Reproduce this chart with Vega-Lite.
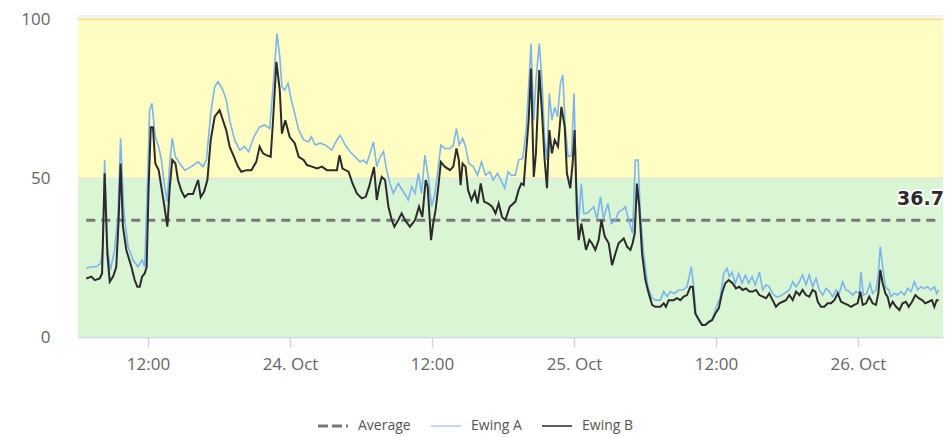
{
  "$schema": "https://vega.github.io/schema/vega-lite/v6.json",
  "width": 865,
  "height": 321,
  "autosize": {"type": "none"},
  "padding": {"left": 78, "top": 16, "right": 3, "bottom": 100},
  "background": "white",
  "config": {"view": {"stroke": null}, "font": "Open Sans"},
  "datasets": {
    "avg": [
      {"t": "2023-10-23T06:47", "v": 36.7},
      {"t": "2023-10-26T06:49", "v": 36.7}
    ],
    "A": [
      {"t": "2023-10-23T06:47", "v": 21.6}, {"t": "2023-10-23T07:13", "v": 22.1}, {"t": "2023-10-23T07:38", "v": 22.1}, {"t": "2023-10-23T08:00", "v": 23.2},
      {"t": "2023-10-23T08:12", "v": 28.4}, {"t": "2023-10-23T08:20", "v": 55.7}, {"t": "2023-10-23T08:34", "v": 28.4}, {"t": "2023-10-23T08:49", "v": 21},
      {"t": "2023-10-23T09:11", "v": 27.4}, {"t": "2023-10-23T09:28", "v": 38.9}, {"t": "2023-10-23T09:41", "v": 62.5}, {"t": "2023-10-23T09:58", "v": 38.9},
      {"t": "2023-10-23T10:19", "v": 28.4}, {"t": "2023-10-23T10:44", "v": 24.2}, {"t": "2023-10-23T11:09", "v": 22.1}, {"t": "2023-10-23T11:30", "v": 24.2},
      {"t": "2023-10-23T11:43", "v": 22.1}, {"t": "2023-10-23T11:57", "v": 47.3}, {"t": "2023-10-23T12:08", "v": 71.4}, {"t": "2023-10-23T12:20", "v": 73.5},
      {"t": "2023-10-23T12:37", "v": 63}, {"t": "2023-10-23T12:54", "v": 59.9}, {"t": "2023-10-23T13:08", "v": 55.7}, {"t": "2023-10-23T13:24", "v": 47.3},
      {"t": "2023-10-23T13:38", "v": 42.6}, {"t": "2023-10-23T13:50", "v": 54.6}, {"t": "2023-10-23T14:03", "v": 62.5}, {"t": "2023-10-23T14:19", "v": 56.7},
      {"t": "2023-10-23T14:41", "v": 54.6}, {"t": "2023-10-23T15:06", "v": 52.5}, {"t": "2023-10-23T15:40", "v": 53.6}, {"t": "2023-10-23T16:14", "v": 55.1},
      {"t": "2023-10-23T16:39", "v": 53.6}, {"t": "2023-10-23T16:56", "v": 55.7}, {"t": "2023-10-23T17:18", "v": 70.3}, {"t": "2023-10-23T17:38", "v": 78.7},
      {"t": "2023-10-23T17:55", "v": 80.3}, {"t": "2023-10-23T18:20", "v": 77.7}, {"t": "2023-10-23T18:37", "v": 74.5}, {"t": "2023-10-23T18:54", "v": 68.2},
      {"t": "2023-10-23T19:19", "v": 62}, {"t": "2023-10-23T19:45", "v": 58.8}, {"t": "2023-10-23T20:10", "v": 59.9}, {"t": "2023-10-23T20:30", "v": 58.3},
      {"t": "2023-10-23T20:57", "v": 63}, {"t": "2023-10-23T21:26", "v": 66.1}, {"t": "2023-10-23T21:52", "v": 66.7}, {"t": "2023-10-23T22:17", "v": 65.6},
      {"t": "2023-10-23T22:34", "v": 78.7}, {"t": "2023-10-23T22:54", "v": 95.5}, {"t": "2023-10-23T23:08", "v": 88.2}, {"t": "2023-10-23T23:19", "v": 78.7},
      {"t": "2023-10-23T23:33", "v": 77.7}, {"t": "2023-10-23T23:50", "v": 79.8}, {"t": "2023-10-24T00:07", "v": 74.5}, {"t": "2023-10-24T00:24", "v": 70.3},
      {"t": "2023-10-24T00:44", "v": 65.1}, {"t": "2023-10-24T01:09", "v": 62}, {"t": "2023-10-24T01:34", "v": 61.4}, {"t": "2023-10-24T01:48", "v": 63},
      {"t": "2023-10-24T02:08", "v": 60.4}, {"t": "2023-10-24T02:33", "v": 61}, {"t": "2023-10-24T02:59", "v": 60.4}, {"t": "2023-10-24T03:32", "v": 58.8},
      {"t": "2023-10-24T03:58", "v": 62}, {"t": "2023-10-24T04:15", "v": 63.5}, {"t": "2023-10-24T04:40", "v": 60.4}, {"t": "2023-10-24T05:05", "v": 58.3},
      {"t": "2023-10-24T05:30", "v": 56.7}, {"t": "2023-10-24T05:56", "v": 55.1}, {"t": "2023-10-24T06:12", "v": 55.7}, {"t": "2023-10-24T06:29", "v": 54.6},
      {"t": "2023-10-24T06:46", "v": 57.8}, {"t": "2023-10-24T07:03", "v": 61.4}, {"t": "2023-10-24T07:20", "v": 53.6}, {"t": "2023-10-24T07:37", "v": 56.7},
      {"t": "2023-10-24T07:54", "v": 58.3}, {"t": "2023-10-24T08:10", "v": 52.5}, {"t": "2023-10-24T08:27", "v": 48.3}, {"t": "2023-10-24T08:44", "v": 45.2},
      {"t": "2023-10-24T09:09", "v": 48.3}, {"t": "2023-10-24T09:35", "v": 45.7}, {"t": "2023-10-24T10:00", "v": 43.1}, {"t": "2023-10-24T10:17", "v": 47.3},
      {"t": "2023-10-24T10:34", "v": 45.2}, {"t": "2023-10-24T10:51", "v": 51.5}, {"t": "2023-10-24T11:07", "v": 45.2}, {"t": "2023-10-24T11:24", "v": 57.2},
      {"t": "2023-10-24T11:41", "v": 50.4}, {"t": "2023-10-24T11:58", "v": 41}, {"t": "2023-10-24T12:15", "v": 45.2}, {"t": "2023-10-24T12:32", "v": 53.6},
      {"t": "2023-10-24T12:45", "v": 60.4}, {"t": "2023-10-24T13:05", "v": 59.3}, {"t": "2023-10-24T13:31", "v": 59.3}, {"t": "2023-10-24T13:48", "v": 60.4},
      {"t": "2023-10-24T14:04", "v": 65.6}, {"t": "2023-10-24T14:18", "v": 60.4}, {"t": "2023-10-24T14:35", "v": 62.5}, {"t": "2023-10-24T14:50", "v": 59.9},
      {"t": "2023-10-24T15:07", "v": 54.6}, {"t": "2023-10-24T15:29", "v": 53.6}, {"t": "2023-10-24T15:51", "v": 50.9}, {"t": "2023-10-24T16:11", "v": 55.1},
      {"t": "2023-10-24T16:31", "v": 50.9}, {"t": "2023-10-24T16:53", "v": 52}, {"t": "2023-10-24T17:10", "v": 49.4}, {"t": "2023-10-24T17:32", "v": 51.5},
      {"t": "2023-10-24T17:49", "v": 49.4}, {"t": "2023-10-24T18:09", "v": 46.8}, {"t": "2023-10-24T18:26", "v": 52}, {"t": "2023-10-24T18:42", "v": 50.9},
      {"t": "2023-10-24T19:03", "v": 50.9}, {"t": "2023-10-24T19:19", "v": 55.7}, {"t": "2023-10-24T19:40", "v": 56.2}, {"t": "2023-10-24T19:57", "v": 65.1},
      {"t": "2023-10-24T20:10", "v": 78.7}, {"t": "2023-10-24T20:22", "v": 92.3}, {"t": "2023-10-24T20:36", "v": 68.2}, {"t": "2023-10-24T20:47", "v": 80.8},
      {"t": "2023-10-24T21:04", "v": 92.3}, {"t": "2023-10-24T21:18", "v": 80.8}, {"t": "2023-10-24T21:31", "v": 62}, {"t": "2023-10-24T21:43", "v": 55.7},
      {"t": "2023-10-24T21:55", "v": 76.6}, {"t": "2023-10-24T22:08", "v": 68.2}, {"t": "2023-10-24T22:22", "v": 72.4}, {"t": "2023-10-24T22:36", "v": 69.3},
      {"t": "2023-10-24T22:51", "v": 79.8}, {"t": "2023-10-24T23:03", "v": 82.4}, {"t": "2023-10-24T23:16", "v": 66.1}, {"t": "2023-10-24T23:30", "v": 56.7},
      {"t": "2023-10-24T23:47", "v": 57.2}, {"t": "2023-10-25T00:00", "v": 76.6}, {"t": "2023-10-25T00:12", "v": 47.3}, {"t": "2023-10-25T00:24", "v": 36.8},
      {"t": "2023-10-25T00:37", "v": 48.3}, {"t": "2023-10-25T00:49", "v": 38.9}, {"t": "2023-10-25T01:06", "v": 38.9}, {"t": "2023-10-25T01:23", "v": 39.9},
      {"t": "2023-10-25T01:40", "v": 41}, {"t": "2023-10-25T01:57", "v": 37.2}, {"t": "2023-10-25T02:14", "v": 44.1}, {"t": "2023-10-25T02:30", "v": 37.2},
      {"t": "2023-10-25T02:52", "v": 42}, {"t": "2023-10-25T03:09", "v": 35.7}, {"t": "2023-10-25T03:30", "v": 36.8}, {"t": "2023-10-25T03:46", "v": 39.4},
      {"t": "2023-10-25T04:03", "v": 39.9}, {"t": "2023-10-25T04:20", "v": 41}, {"t": "2023-10-25T04:37", "v": 36.8}, {"t": "2023-10-25T04:57", "v": 32.6},
      {"t": "2023-10-25T05:11", "v": 55.7}, {"t": "2023-10-25T05:25", "v": 55.7}, {"t": "2023-10-25T05:36", "v": 38.9}, {"t": "2023-10-25T05:53", "v": 26.3},
      {"t": "2023-10-25T06:15", "v": 15.8}, {"t": "2023-10-25T06:36", "v": 12.2}, {"t": "2023-10-25T06:56", "v": 11.6}, {"t": "2023-10-25T07:18", "v": 11.6},
      {"t": "2023-10-25T07:35", "v": 14.3}, {"t": "2023-10-25T07:52", "v": 12.7}, {"t": "2023-10-25T08:08", "v": 14.3}, {"t": "2023-10-25T08:30", "v": 13.7},
      {"t": "2023-10-25T08:51", "v": 14.8}, {"t": "2023-10-25T09:11", "v": 14.8}, {"t": "2023-10-25T09:33", "v": 15.8}, {"t": "2023-10-25T09:55", "v": 22.1},
      {"t": "2023-10-25T10:07", "v": 15.8}, {"t": "2023-10-25T10:19", "v": 6.9}, {"t": "2023-10-25T10:36", "v": 4.8}, {"t": "2023-10-25T10:57", "v": 3.8},
      {"t": "2023-10-25T11:23", "v": 4.3}, {"t": "2023-10-25T11:43", "v": 5.9}, {"t": "2023-10-25T12:05", "v": 10.1}, {"t": "2023-10-25T12:22", "v": 12.7},
      {"t": "2023-10-25T12:39", "v": 20}, {"t": "2023-10-25T12:56", "v": 21.6}, {"t": "2023-10-25T13:08", "v": 19}, {"t": "2023-10-25T13:21", "v": 20.4},
      {"t": "2023-10-25T13:38", "v": 16.9}, {"t": "2023-10-25T13:55", "v": 20}, {"t": "2023-10-25T14:12", "v": 16.9}, {"t": "2023-10-25T14:29", "v": 19.5},
      {"t": "2023-10-25T14:46", "v": 16.9}, {"t": "2023-10-25T15:03", "v": 19}, {"t": "2023-10-25T15:19", "v": 16.4}, {"t": "2023-10-25T15:40", "v": 20.4},
      {"t": "2023-10-25T15:57", "v": 14.8}, {"t": "2023-10-25T16:14", "v": 16.4}, {"t": "2023-10-25T16:30", "v": 15.8}, {"t": "2023-10-25T16:47", "v": 13.7},
      {"t": "2023-10-25T17:04", "v": 12.7}, {"t": "2023-10-25T17:21", "v": 12.7}, {"t": "2023-10-25T17:47", "v": 13.7}, {"t": "2023-10-25T18:12", "v": 14.8},
      {"t": "2023-10-25T18:29", "v": 17.4}, {"t": "2023-10-25T18:46", "v": 15.8}, {"t": "2023-10-25T19:03", "v": 17.4}, {"t": "2023-10-25T19:19", "v": 19.5},
      {"t": "2023-10-25T19:36", "v": 16.4}, {"t": "2023-10-25T19:53", "v": 19.5}, {"t": "2023-10-25T20:10", "v": 15.8}, {"t": "2023-10-25T20:27", "v": 18.4},
      {"t": "2023-10-25T20:44", "v": 14.8}, {"t": "2023-10-25T21:01", "v": 13.2}, {"t": "2023-10-25T21:18", "v": 15.3}, {"t": "2023-10-25T21:35", "v": 14.3},
      {"t": "2023-10-25T21:52", "v": 12.7}, {"t": "2023-10-25T22:08", "v": 14.8}, {"t": "2023-10-25T22:25", "v": 13.7}, {"t": "2023-10-25T22:42", "v": 17.4},
      {"t": "2023-10-25T22:59", "v": 14.8}, {"t": "2023-10-25T23:16", "v": 14.3}, {"t": "2023-10-25T23:33", "v": 13.2}, {"t": "2023-10-25T23:50", "v": 14.3},
      {"t": "2023-10-26T00:07", "v": 13.7}, {"t": "2023-10-26T00:15", "v": 20.4}, {"t": "2023-10-26T00:27", "v": 13.2}, {"t": "2023-10-26T00:44", "v": 13.7},
      {"t": "2023-10-26T01:01", "v": 16.9}, {"t": "2023-10-26T01:14", "v": 13.7}, {"t": "2023-10-26T01:31", "v": 14.8}, {"t": "2023-10-26T01:43", "v": 20},
      {"t": "2023-10-26T01:53", "v": 28.4}, {"t": "2023-10-26T02:05", "v": 22.1}, {"t": "2023-10-26T02:19", "v": 15.8}, {"t": "2023-10-26T02:36", "v": 14.8},
      {"t": "2023-10-26T02:47", "v": 12.7}, {"t": "2023-10-26T03:04", "v": 13.7}, {"t": "2023-10-26T03:21", "v": 13.2}, {"t": "2023-10-26T03:38", "v": 14.3},
      {"t": "2023-10-26T03:55", "v": 13.2}, {"t": "2023-10-26T04:12", "v": 15.3}, {"t": "2023-10-26T04:29", "v": 14.3}, {"t": "2023-10-26T04:46", "v": 17.4},
      {"t": "2023-10-26T05:03", "v": 14.8}, {"t": "2023-10-26T05:19", "v": 15.8}, {"t": "2023-10-26T05:36", "v": 15.3}, {"t": "2023-10-26T05:53", "v": 15.8},
      {"t": "2023-10-26T06:10", "v": 14.8}, {"t": "2023-10-26T06:27", "v": 15.8}, {"t": "2023-10-26T06:39", "v": 13.7}, {"t": "2023-10-26T06:49", "v": 14.8}
    ],
    "B": [
      {"t": "2023-10-23T06:47", "v": 18.4}, {"t": "2023-10-23T07:13", "v": 19}, {"t": "2023-10-23T07:30", "v": 17.9}, {"t": "2023-10-23T07:55", "v": 18.4},
      {"t": "2023-10-23T08:07", "v": 20}, {"t": "2023-10-23T08:20", "v": 51.5}, {"t": "2023-10-23T08:34", "v": 26}, {"t": "2023-10-23T08:46", "v": 17.4},
      {"t": "2023-10-23T09:03", "v": 19}, {"t": "2023-10-23T09:19", "v": 22}, {"t": "2023-10-23T09:31", "v": 36.8}, {"t": "2023-10-23T09:41", "v": 54.6},
      {"t": "2023-10-23T09:53", "v": 34.7}, {"t": "2023-10-23T10:10", "v": 27.4}, {"t": "2023-10-23T10:36", "v": 22}, {"t": "2023-10-23T10:52", "v": 18},
      {"t": "2023-10-23T11:06", "v": 15.8}, {"t": "2023-10-23T11:18", "v": 15.8}, {"t": "2023-10-23T11:30", "v": 19}, {"t": "2023-10-23T11:43", "v": 20},
      {"t": "2023-10-23T11:53", "v": 22}, {"t": "2023-10-23T12:03", "v": 47}, {"t": "2023-10-23T12:14", "v": 66}, {"t": "2023-10-23T12:25", "v": 66},
      {"t": "2023-10-23T12:37", "v": 54.6}, {"t": "2023-10-23T12:54", "v": 52.5}, {"t": "2023-10-23T13:08", "v": 47}, {"t": "2023-10-23T13:21", "v": 42},
      {"t": "2023-10-23T13:38", "v": 34.7}, {"t": "2023-10-23T13:50", "v": 47}, {"t": "2023-10-23T14:03", "v": 55.7}, {"t": "2023-10-23T14:19", "v": 54.6},
      {"t": "2023-10-23T14:32", "v": 49.4}, {"t": "2023-10-23T14:49", "v": 46}, {"t": "2023-10-23T15:06", "v": 44}, {"t": "2023-10-23T15:23", "v": 45},
      {"t": "2023-10-23T15:48", "v": 45}, {"t": "2023-10-23T16:14", "v": 49.4}, {"t": "2023-10-23T16:27", "v": 44}, {"t": "2023-10-23T16:44", "v": 45.7},
      {"t": "2023-10-23T17:01", "v": 49.4}, {"t": "2023-10-23T17:18", "v": 62}, {"t": "2023-10-23T17:38", "v": 69.3}, {"t": "2023-10-23T18:03", "v": 71.4},
      {"t": "2023-10-23T18:20", "v": 68.2}, {"t": "2023-10-23T18:37", "v": 65}, {"t": "2023-10-23T18:54", "v": 59.9}, {"t": "2023-10-23T19:16", "v": 56.7},
      {"t": "2023-10-23T19:36", "v": 53.6}, {"t": "2023-10-23T19:53", "v": 52}, {"t": "2023-10-23T20:19", "v": 52.5}, {"t": "2023-10-23T20:44", "v": 52.5},
      {"t": "2023-10-23T21:09", "v": 55.1}, {"t": "2023-10-23T21:26", "v": 59.9}, {"t": "2023-10-23T21:43", "v": 57.8}, {"t": "2023-10-23T22:00", "v": 57.2},
      {"t": "2023-10-23T22:22", "v": 56.7}, {"t": "2023-10-23T22:34", "v": 68.2}, {"t": "2023-10-23T22:51", "v": 86.6}, {"t": "2023-10-23T23:08", "v": 77.7},
      {"t": "2023-10-23T23:19", "v": 64}, {"t": "2023-10-23T23:36", "v": 68.2}, {"t": "2023-10-23T23:58", "v": 63}, {"t": "2023-10-24T00:24", "v": 61},
      {"t": "2023-10-24T00:44", "v": 56.7}, {"t": "2023-10-24T01:09", "v": 55.7}, {"t": "2023-10-24T01:26", "v": 54.1}, {"t": "2023-10-24T01:51", "v": 53.6},
      {"t": "2023-10-24T02:17", "v": 53}, {"t": "2023-10-24T02:42", "v": 53.6}, {"t": "2023-10-24T03:07", "v": 52.5}, {"t": "2023-10-24T03:32", "v": 52.5},
      {"t": "2023-10-24T03:58", "v": 52.5}, {"t": "2023-10-24T04:11", "v": 57.2}, {"t": "2023-10-24T04:26", "v": 53}, {"t": "2023-10-24T04:57", "v": 52},
      {"t": "2023-10-24T05:17", "v": 48.3}, {"t": "2023-10-24T05:39", "v": 45.2}, {"t": "2023-10-24T06:04", "v": 43.6}, {"t": "2023-10-24T06:24", "v": 44.1},
      {"t": "2023-10-24T06:41", "v": 47.3}, {"t": "2023-10-24T07:06", "v": 53.5}, {"t": "2023-10-24T07:20", "v": 43.1}, {"t": "2023-10-24T07:32", "v": 47.3},
      {"t": "2023-10-24T07:45", "v": 50.4}, {"t": "2023-10-24T08:02", "v": 49.4}, {"t": "2023-10-24T08:19", "v": 41}, {"t": "2023-10-24T08:36", "v": 36.8},
      {"t": "2023-10-24T08:49", "v": 34.7}, {"t": "2023-10-24T09:09", "v": 36.8}, {"t": "2023-10-24T09:26", "v": 38.9}, {"t": "2023-10-24T09:43", "v": 36.8},
      {"t": "2023-10-24T10:08", "v": 34.7}, {"t": "2023-10-24T10:34", "v": 36.8}, {"t": "2023-10-24T10:54", "v": 41}, {"t": "2023-10-24T11:11", "v": 37.8},
      {"t": "2023-10-24T11:28", "v": 49.4}, {"t": "2023-10-24T11:38", "v": 47.3}, {"t": "2023-10-24T11:55", "v": 30.5}, {"t": "2023-10-24T12:06", "v": 35.7},
      {"t": "2023-10-24T12:18", "v": 39.9}, {"t": "2023-10-24T12:32", "v": 47.3}, {"t": "2023-10-24T12:45", "v": 55.1}, {"t": "2023-10-24T13:05", "v": 53.6},
      {"t": "2023-10-24T13:31", "v": 52.5}, {"t": "2023-10-24T13:48", "v": 53.6}, {"t": "2023-10-24T14:04", "v": 59.3}, {"t": "2023-10-24T14:16", "v": 55.7},
      {"t": "2023-10-24T14:25", "v": 47.8}, {"t": "2023-10-24T14:35", "v": 54.6}, {"t": "2023-10-24T14:50", "v": 53.6}, {"t": "2023-10-24T15:03", "v": 46.2},
      {"t": "2023-10-24T15:20", "v": 43.1}, {"t": "2023-10-24T15:37", "v": 45.7}, {"t": "2023-10-24T15:51", "v": 42}, {"t": "2023-10-24T16:07", "v": 48.3},
      {"t": "2023-10-24T16:24", "v": 42.6}, {"t": "2023-10-24T16:45", "v": 42}, {"t": "2023-10-24T17:05", "v": 41}, {"t": "2023-10-24T17:22", "v": 38.9},
      {"t": "2023-10-24T17:38", "v": 42}, {"t": "2023-10-24T17:55", "v": 37.8}, {"t": "2023-10-24T18:12", "v": 36.8}, {"t": "2023-10-24T18:34", "v": 41},
      {"t": "2023-10-24T19:03", "v": 42.6}, {"t": "2023-10-24T19:19", "v": 46.2}, {"t": "2023-10-24T19:33", "v": 48.3}, {"t": "2023-10-24T19:45", "v": 47.8},
      {"t": "2023-10-24T19:57", "v": 57.8}, {"t": "2023-10-24T20:10", "v": 68.2}, {"t": "2023-10-24T20:22", "v": 84.5}, {"t": "2023-10-24T20:36", "v": 50.4},
      {"t": "2023-10-24T20:47", "v": 57.8}, {"t": "2023-10-24T21:04", "v": 84}, {"t": "2023-10-24T21:18", "v": 70.3}, {"t": "2023-10-24T21:31", "v": 55.7},
      {"t": "2023-10-24T21:43", "v": 46.8}, {"t": "2023-10-24T21:55", "v": 65.1}, {"t": "2023-10-24T22:08", "v": 57.8}, {"t": "2023-10-24T22:22", "v": 62},
      {"t": "2023-10-24T22:39", "v": 59.9}, {"t": "2023-10-24T22:56", "v": 72.4}, {"t": "2023-10-24T23:13", "v": 66.1}, {"t": "2023-10-24T23:24", "v": 51.5},
      {"t": "2023-10-24T23:41", "v": 46.8}, {"t": "2023-10-24T23:53", "v": 54.6}, {"t": "2023-10-25T00:03", "v": 65.1}, {"t": "2023-10-25T00:15", "v": 38.9},
      {"t": "2023-10-25T00:24", "v": 30.5}, {"t": "2023-10-25T00:37", "v": 35.7}, {"t": "2023-10-25T00:49", "v": 31.6}, {"t": "2023-10-25T01:01", "v": 27.4},
      {"t": "2023-10-25T01:18", "v": 30.5}, {"t": "2023-10-25T01:31", "v": 29.5}, {"t": "2023-10-25T01:48", "v": 27.4}, {"t": "2023-10-25T02:05", "v": 30.5},
      {"t": "2023-10-25T02:19", "v": 36.8}, {"t": "2023-10-25T02:36", "v": 31.6}, {"t": "2023-10-25T02:56", "v": 29.5}, {"t": "2023-10-25T03:13", "v": 22.6},
      {"t": "2023-10-25T03:30", "v": 26.3}, {"t": "2023-10-25T03:46", "v": 29.5}, {"t": "2023-10-25T04:12", "v": 31}, {"t": "2023-10-25T04:29", "v": 28.4},
      {"t": "2023-10-25T04:46", "v": 27.4}, {"t": "2023-10-25T04:57", "v": 29.5}, {"t": "2023-10-25T05:08", "v": 32.6}, {"t": "2023-10-25T05:19", "v": 48.3},
      {"t": "2023-10-25T05:31", "v": 41}, {"t": "2023-10-25T05:45", "v": 26.3}, {"t": "2023-10-25T06:02", "v": 17.9}, {"t": "2023-10-25T06:19", "v": 13.7},
      {"t": "2023-10-25T06:36", "v": 10.1}, {"t": "2023-10-25T06:52", "v": 9.5}, {"t": "2023-10-25T07:18", "v": 9.5}, {"t": "2023-10-25T07:35", "v": 10.6},
      {"t": "2023-10-25T07:46", "v": 9.5}, {"t": "2023-10-25T08:00", "v": 11.6}, {"t": "2023-10-25T08:25", "v": 11.6}, {"t": "2023-10-25T08:42", "v": 12.2},
      {"t": "2023-10-25T08:59", "v": 11.6}, {"t": "2023-10-25T09:16", "v": 12.7}, {"t": "2023-10-25T09:33", "v": 13.2}, {"t": "2023-10-25T09:50", "v": 15.8},
      {"t": "2023-10-25T10:02", "v": 15.8}, {"t": "2023-10-25T10:15", "v": 7.4}, {"t": "2023-10-25T10:29", "v": 5.9}, {"t": "2023-10-25T10:49", "v": 3.8},
      {"t": "2023-10-25T11:06", "v": 3.8}, {"t": "2023-10-25T11:23", "v": 4.8}, {"t": "2023-10-25T11:40", "v": 5.3}, {"t": "2023-10-25T11:57", "v": 7.4},
      {"t": "2023-10-25T12:14", "v": 9}, {"t": "2023-10-25T12:30", "v": 13.7}, {"t": "2023-10-25T12:47", "v": 16.9}, {"t": "2023-10-25T13:04", "v": 17.9},
      {"t": "2023-10-25T13:24", "v": 16.9}, {"t": "2023-10-25T13:41", "v": 15.3}, {"t": "2023-10-25T13:58", "v": 15.8}, {"t": "2023-10-25T14:15", "v": 14.8},
      {"t": "2023-10-25T14:32", "v": 15.3}, {"t": "2023-10-25T14:49", "v": 14.3}, {"t": "2023-10-25T15:06", "v": 14.3}, {"t": "2023-10-25T15:23", "v": 14.8},
      {"t": "2023-10-25T15:40", "v": 13.2}, {"t": "2023-10-25T15:57", "v": 12.7}, {"t": "2023-10-25T16:14", "v": 12.2}, {"t": "2023-10-25T16:30", "v": 13.7},
      {"t": "2023-10-25T16:47", "v": 11.6}, {"t": "2023-10-25T17:04", "v": 9.5}, {"t": "2023-10-25T17:21", "v": 10.6}, {"t": "2023-10-25T17:38", "v": 11.1},
      {"t": "2023-10-25T17:55", "v": 11.6}, {"t": "2023-10-25T18:12", "v": 13.2}, {"t": "2023-10-25T18:29", "v": 11.6}, {"t": "2023-10-25T18:46", "v": 14.3},
      {"t": "2023-10-25T19:03", "v": 13.2}, {"t": "2023-10-25T19:19", "v": 14.8}, {"t": "2023-10-25T19:36", "v": 13.2}, {"t": "2023-10-25T19:53", "v": 12.7},
      {"t": "2023-10-25T20:10", "v": 14.8}, {"t": "2023-10-25T20:24", "v": 14.3}, {"t": "2023-10-25T20:36", "v": 11.1}, {"t": "2023-10-25T20:52", "v": 9.5},
      {"t": "2023-10-25T21:09", "v": 9.5}, {"t": "2023-10-25T21:26", "v": 10.6}, {"t": "2023-10-25T21:43", "v": 10.6}, {"t": "2023-10-25T22:00", "v": 11.6},
      {"t": "2023-10-25T22:17", "v": 13.7}, {"t": "2023-10-25T22:34", "v": 11.1}, {"t": "2023-10-25T22:51", "v": 10.6}, {"t": "2023-10-25T23:08", "v": 10.1},
      {"t": "2023-10-25T23:25", "v": 9.5}, {"t": "2023-10-25T23:41", "v": 10.1}, {"t": "2023-10-25T23:58", "v": 10.6}, {"t": "2023-10-26T00:12", "v": 14.3},
      {"t": "2023-10-26T00:24", "v": 10.1}, {"t": "2023-10-26T00:41", "v": 10.6}, {"t": "2023-10-26T00:57", "v": 12.7}, {"t": "2023-10-26T01:14", "v": 10.6},
      {"t": "2023-10-26T01:31", "v": 10.1}, {"t": "2023-10-26T01:43", "v": 13.7}, {"t": "2023-10-26T01:53", "v": 21.1}, {"t": "2023-10-26T02:05", "v": 16.9},
      {"t": "2023-10-26T02:19", "v": 13.7}, {"t": "2023-10-26T02:30", "v": 12.7}, {"t": "2023-10-26T02:42", "v": 9.5}, {"t": "2023-10-26T02:56", "v": 11.1},
      {"t": "2023-10-26T03:13", "v": 9.5}, {"t": "2023-10-26T03:30", "v": 8.5}, {"t": "2023-10-26T03:46", "v": 10.6}, {"t": "2023-10-26T04:03", "v": 11.1},
      {"t": "2023-10-26T04:17", "v": 9.5}, {"t": "2023-10-26T04:34", "v": 11.1}, {"t": "2023-10-26T04:51", "v": 13.2}, {"t": "2023-10-26T05:08", "v": 12.2},
      {"t": "2023-10-26T05:25", "v": 11.6}, {"t": "2023-10-26T05:41", "v": 10.6}, {"t": "2023-10-26T05:58", "v": 11.1}, {"t": "2023-10-26T06:15", "v": 11.6},
      {"t": "2023-10-26T06:27", "v": 9.5}, {"t": "2023-10-26T06:39", "v": 11.6}, {"t": "2023-10-26T06:49", "v": 11.6}
    ]
  },
  "layer": [
    {
      "data": {"values": [{"lo": 0, "hi": 50}]},
      "mark": {"type": "rect", "color": "#d9f5d3"},
      "encoding": {
        "y": {"field": "lo", "type": "quantitative", "title": null, "scale": {"domain": [0, 101], "nice": false, "zero": true},
          "axis": {"values": [0, 50, 100], "domain": false, "ticks": false, "grid": false, "labelFontSize": 17, "labelColor": "#666666", "labelPadding": 28, "labelFont": "Open Sans", "title": null}},
        "y2": {"field": "hi"}
      }
    },
    {
      "data": {"values": [{"lo": 50, "hi": 100}]},
      "mark": {"type": "rect", "color": "#fffdc2"},
      "encoding": {"y": {"field": "lo", "type": "quantitative", "title": null}, "y2": {"field": "hi"}}
    },
    {
      "data": {"values": [{"v": 50}, {"v": 101}]},
      "mark": {"type": "rule", "color": "#e3e3e3", "strokeWidth": 1.2},
      "encoding": {"y": {"field": "v", "type": "quantitative", "title": null}}
    },
    {
      "data": {"values": [{"v": 100}]},
      "mark": {"type": "rule", "color": "#fde3a5", "strokeWidth": 2.5},
      "encoding": {"y": {"field": "v", "type": "quantitative", "title": null}}
    },
    {
      "data": {"name": "avg"},
      "mark": {"type": "line", "strokeDash": [9, 6], "strokeWidth": 3, "interpolate": "linear"},
      "encoding": {
        "x": {"field": "t", "type": "temporal", "title": null,
          "scale": {"domain": [{"year": 2023, "month": 10, "date": 23, "hours": 6, "minutes": 5}, {"year": 2023, "month": 10, "date": 26, "hours": 7, "minutes": 11}]},
          "axis": {
            "values": [
              {"year": 2023, "month": 10, "date": 23, "hours": 12},
              {"year": 2023, "month": 10, "date": 24, "hours": 0},
              {"year": 2023, "month": 10, "date": 24, "hours": 12},
              {"year": 2023, "month": 10, "date": 25, "hours": 0},
              {"year": 2023, "month": 10, "date": 25, "hours": 12},
              {"year": 2023, "month": 10, "date": 26, "hours": 0}
            ],
            "labelExpr": "hours(datum.value) == 0 ? timeFormat(datum.value, '%d. %b') : timeFormat(datum.value, '%H:%M')",
            "grid": false, "domainColor": "#ccd6eb", "domainWidth": 1.5, "tickColor": "#ccd6eb", "tickWidth": 1.5, "tickSize": 10,
            "labelFontSize": 17, "labelColor": "#666666", "labelPadding": 9, "labelFont": "Open Sans", "labelFlush": false, "title": null
          }},
        "y": {"field": "v", "type": "quantitative", "title": null},
        "color": {"datum": "Average", "type": "nominal", "title": null,
          "scale": {"domain": ["Average", "Ewing A", "Ewing B"], "range": ["#787878", "#7cb5ec", "#2b2b2b"]},
          "legend": {
            "orient": "none", "legendX": 248, "legendY": 403, "direction": "horizontal", "title": null,
            "symbolType": "stroke", "symbolSize": 900, "symbolStrokeWidth": 2,
            "labelFontSize": 14, "labelColor": "#555555", "labelFont": "Open Sans", "labelOffset": 18, "columnPadding": 17,
            "encode": {"symbols": {"update": {
              "strokeDash": {"signal": "datum.value == 'Average' ? [10, 4] : [1, 0]"},
              "strokeWidth": {"signal": "datum.value == 'Average' ? 3 : (datum.value == 'Ewing B' ? 1.5 : 1.2)"}
            }}}
          }}
      }
    },
    {
      "data": {"name": "A"},
      "mark": {"type": "line", "strokeWidth": 1.6},
      "encoding": {
        "x": {"field": "t", "type": "temporal", "title": null},
        "y": {"field": "v", "type": "quantitative", "title": null},
        "color": {"datum": "Ewing A", "type": "nominal"}
      }
    },
    {
      "data": {"name": "B"},
      "mark": {"type": "line", "strokeWidth": 2},
      "encoding": {
        "x": {"field": "t", "type": "temporal", "title": null},
        "y": {"field": "v", "type": "quantitative", "title": null},
        "color": {"datum": "Ewing B", "type": "nominal"}
      }
    },
    {
      "data": {"values": [{"label": "36.7", "t": "2023-10-26T07:11", "v": 36.7}]},
      "mark": {"type": "text", "align": "right", "baseline": "alphabetic", "dx": 1, "dy": -15, "fontSize": 19, "fontWeight": "bold", "font": "DejaVu Sans", "stroke": "white", "strokeWidth": 4, "strokeJoin": "round", "fill": "white"},
      "encoding": {
        "x": {"field": "t", "type": "temporal", "title": null},
        "y": {"field": "v", "type": "quantitative", "title": null},
        "text": {"field": "label"}
      }
    },
    {
      "data": {"values": [{"label": "36.7", "t": "2023-10-26T07:11", "v": 36.7}]},
      "mark": {"type": "text", "align": "right", "baseline": "alphabetic", "dx": 1, "dy": -15, "fontSize": 19, "fontWeight": "bold", "font": "DejaVu Sans", "fill": "#2b2b2b"},
      "encoding": {
        "x": {"field": "t", "type": "temporal", "title": null},
        "y": {"field": "v", "type": "quantitative", "title": null},
        "text": {"field": "label"}
      }
    }
  ]
}
